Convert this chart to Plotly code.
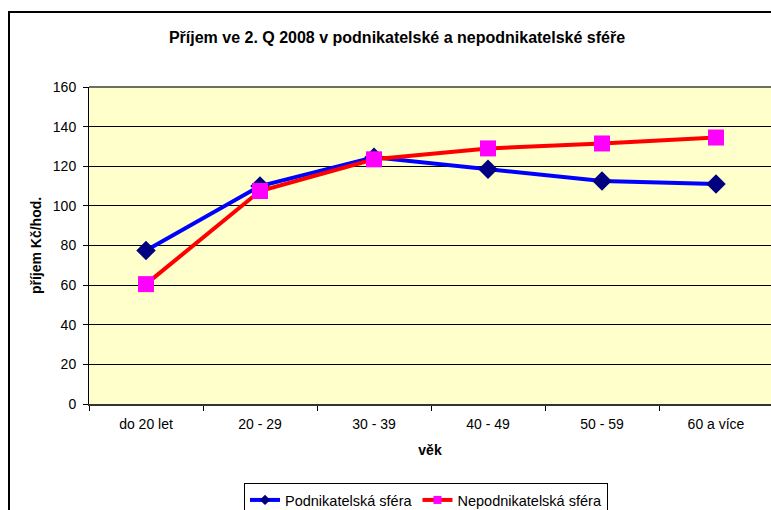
import plotly.graph_objects as go

# données
vek = ["do 20 let", "20 - 29", "30 - 39", "40 - 49", "50 - 59", "60 a více"]
podnikatelska = [77.5, 110, 124.5, 118.5, 112.5, 111]
nepodnikatelska = [60.5, 107.5, 123.5, 129, 131.5, 134.5]

# la marge du body est supprimée (post_script), la figure occupe toute la fenêtre
W, H = 771, 510
left, right, top, bottom = 89, 0, 87, 106
pw = W - left - right
ph = H - top - bottom

font_fam = "Arial, Liberation Sans, sans-serif"


def px_x(p):
    # position en pixels de la page -> coordonnée paper
    return (p - left) / pw


def px_y(p):
    return (H - bottom - p) / ph


fig = go.Figure()
fig.add_scatter(
    x=vek, y=podnikatelska, name="Podnikatelská sféra",
    mode="lines+markers", showlegend=False,
    line=dict(color="#0000FF", width=4),
    marker=dict(symbol="diamond", size=15, color="#000080"),
)
fig.add_scatter(
    x=vek, y=nepodnikatelska, name="Nepodnikatelská sféra",
    mode="lines+markers", showlegend=False,
    line=dict(color="#FF0000", width=4),
    marker=dict(symbol="square", size=16, color="#FF00FF"),
)
# entrées de légende avec petits marqueurs (comme dans Excel)
fig.add_scatter(
    x=[None], y=[None], name="Podnikatelská sféra", mode="lines+markers",
    line=dict(color="#0000FF", width=4),
    marker=dict(symbol="diamond", size=8, color="#000080"),
)
fig.add_scatter(
    x=[None], y=[None], name="Nepodnikatelská sféra", mode="lines+markers",
    line=dict(color="#FF0000", width=4),
    marker=dict(symbol="square", size=8, color="#FF00FF"),
)

# cadre du graphique (bord gauche et haut, le reste est coupé)
fig.add_shape(type="line", xref="paper", yref="paper",
              x0=px_x(9), x1=px_x(9), y0=px_y(12), y1=px_y(520),
              line=dict(color="black", width=2))
fig.add_shape(type="line", xref="paper", yref="paper",
              x0=px_x(8), x1=px_x(780), y0=px_y(12), y1=px_y(12),
              line=dict(color="black", width=2))
# bord supérieur de la zone de tracé
fig.add_shape(type="line", xref="paper", yref="paper",
              x0=0, x1=1, y0=1, y1=1,
              line=dict(color="#6E6E64", width=2))

fig.update_layout(
    width=W, height=H,
    margin=dict(l=left, r=right, t=top, b=bottom, autoexpand=False),
    paper_bgcolor="white",
    plot_bgcolor="#FFFFCC",
    font=dict(family=font_fam, size=14, color="black"),
    title=dict(
        text="<b>Příjem ve 2. Q 2008 v podnikatelské a nepodnikatelské sféře</b>",
        x=397 / W, xanchor="center", xref="container",
        y=1 - 37 / H, yanchor="middle", yref="container",
        font=dict(size=16),
    ),
    xaxis=dict(
        type="category",
        range=[-0.5, 5.5 - 2 / 114],
        tickson="boundaries",
        ticks="outside", ticklen=5, tickcolor="black",
        ticklabelstandoff=6,
        showgrid=False,
        showline=True, linecolor="#333333", linewidth=2,
        tickfont=dict(size=14),
        title=dict(text="<b>věk</b>", font=dict(size=14), standoff=14),
    ),
    yaxis=dict(
        range=[0, 160],
        dtick=20,
        ticks="outside", ticklen=5, tickcolor="black",
        ticklabelstandoff=4,
        showgrid=True, gridcolor="black", gridwidth=1,
        showline=True, linecolor="black", linewidth=1,
        zeroline=False,
        tickfont=dict(size=14),
        title=dict(text="<b>příjem Kč/hod.</b>", font=dict(size=14), standoff=7),
    ),
    showlegend=True,
    legend=dict(
        orientation="h",
        x=px_x(244), xanchor="left",
        y=px_y(483), yanchor="top",
        bgcolor="white", bordercolor="black", borderwidth=1,
        font=dict(size=14.5),
        itemwidth=30,
        tracegroupgap=0,
    ),
)

fig.write_html(
    "out.html",
    config={"displayModeBar": False},
    post_script="document.body.style.margin='0';document.body.style.overflow='hidden';",
)
